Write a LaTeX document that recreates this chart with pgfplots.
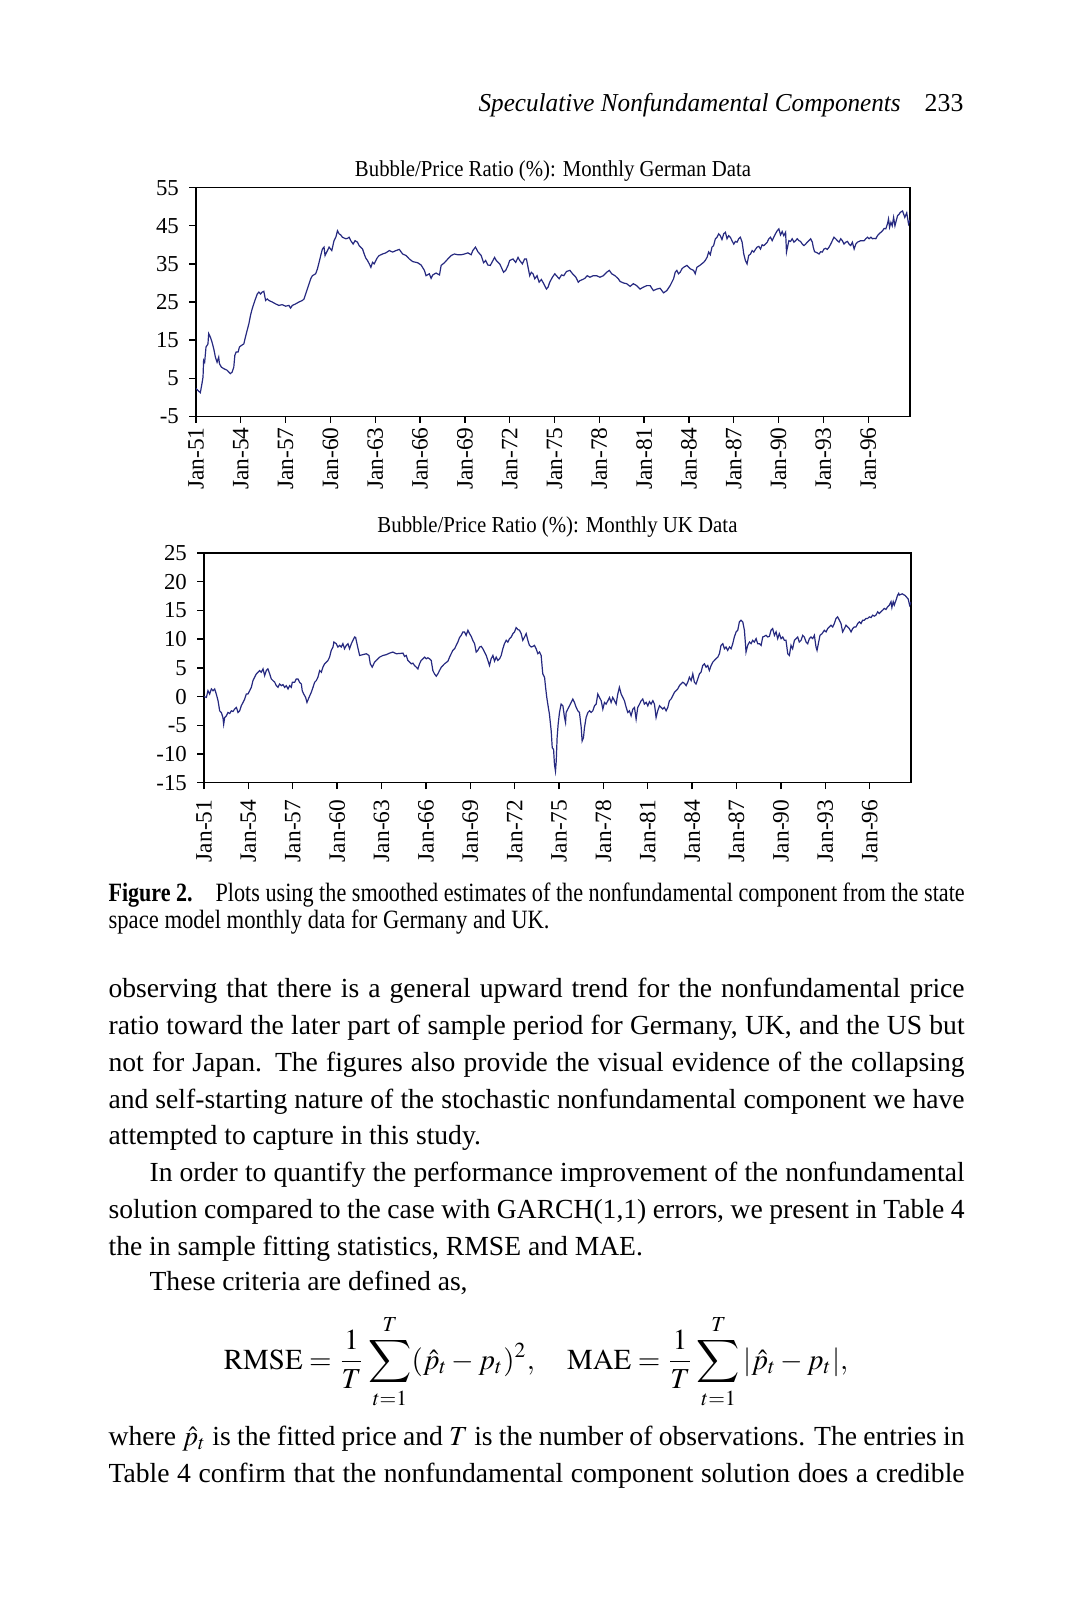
\documentclass[border=0pt]{standalone}
\usepackage{mathptmx}
\DeclareSymbolFont{largesymbols}{OMX}{cmex}{m}{n}
\usepackage{fontspec}
\setmainfont{Liberation Serif}
\usepackage{graphicx}
\usepackage{pgfplots}
\pgfplotsset{compat=1.18}
\definecolor{serieblue}{RGB}{38,41,128}
\newcommand\fitw[2]{\resizebox{#1}{\height}{#2}}
\newcommand\body{\fontsize{9.2}{12}\selectfont}

\pgfplotsset{bubble/.style={
  scale only axis, xmin=1951, xmax=1998.8,
  axis line style={line width=0.45pt},
  tick align=outside, xtick pos=left, ytick pos=left,
  major tick length=2.2pt, tick style={black,line width=0.45pt},
  xtick={1951,1954,...,1996},
  xticklabels={Jan-51,Jan-54,Jan-57,Jan-60,Jan-63,Jan-66,Jan-69,Jan-72,Jan-75,Jan-78,Jan-81,Jan-84,Jan-87,Jan-90,Jan-93,Jan-96},
  yticklabel style={font=\fontsize{7.6}{8}\selectfont},
  cycle list={{serieblue,line width=0.65pt,mark=none}},
}}

\begin{document}
\begin{tikzpicture}
\begin{scope}[x=0.333333pt,y=-0.333333pt]
\fill[white] (0,0) rectangle (1069,1600);
\coordinate (gsw) at (196,416.3);
\coordinate (usw) at (204,782.6);
% running head
\node[anchor=base west,inner sep=0pt] at (478,112) {\fontsize{8.6}{10}\selectfont\fitw{140.7pt}{\itshape Speculative Nonfundamental Components}};
\node[anchor=base east,inner sep=0pt] at (964,112) {\fontsize{8.6}{10}\selectfont 233};
% chart titles
\node[anchor=base,inner sep=0pt] at (553,176.5) {\fontsize{7.6}{9}\selectfont\fitw{132pt}{Bubble/Price Ratio (\%): Monthly German Data}};
\node[anchor=base,inner sep=0pt] at (557.5,532) {\fontsize{7.6}{9}\selectfont\fitw{120pt}{Bubble/Price Ratio (\%): Monthly UK Data}};
% caption
\node[anchor=base west,inner sep=0pt] at (108,901) {\fontsize{8.8}{10}\selectfont\fitw{28pt}{\textbf{Figure 2.}}};
\node[anchor=base west,inner sep=0pt] at (215,901) {\fontsize{8.8}{10}\selectfont\fitw{249.7pt}{Plots using the smoothed estimates of the nonfundamental component from the state}};
\node[anchor=base west,inner sep=0pt] at (108,928) {\fontsize{8.8}{10}\selectfont\fitw{147pt}{space model monthly data for Germany and UK.}};
% body text
\node[anchor=base west,inner sep=0pt] at (108,997) {\body\makebox[285.33pt][s]{observing that there is a general upward trend for the nonfundamental price}};
\node[anchor=base west,inner sep=0pt] at (108,1034) {\body\makebox[285.33pt][s]{ratio toward the later part of sample period for Germany, UK, and the US but}};
\node[anchor=base west,inner sep=0pt] at (108,1071) {\body\makebox[285.33pt][s]{not for Japan. The figures also provide the visual evidence of the collapsing}};
\node[anchor=base west,inner sep=0pt] at (108,1108) {\body\makebox[285.33pt][s]{and self-starting nature of the stochastic nonfundamental component we have}};
\node[anchor=base west,inner sep=0pt] at (108,1144) {\body attempted to capture in this study.};
\node[anchor=base west,inner sep=0pt] at (149,1181) {\body\makebox[271.67pt][s]{In order to quantify the performance improvement of the nonfundamental}};
\node[anchor=base west,inner sep=0pt] at (108,1218) {\body\makebox[285.33pt][s]{solution compared to the case with GARCH(1,1) errors, we present in Table 4}};
\node[anchor=base west,inner sep=0pt] at (108,1255) {\body the in sample fitting statistics, RMSE and MAE.};
\node[anchor=base west,inner sep=0pt] at (149,1290) {\body These criteria are defined as,};
\node[anchor=base,inner sep=0pt] at (536,1369) {\fontsize{9.65}{12}\selectfont$\displaystyle \mathrm{RMSE}=\frac{1}{T}\sum_{t=1}^{T}(\hat{p}_t-p_t)^2,\quad \mathrm{MAE}=\frac{1}{T}\sum_{t=1}^{T}|\hat{p}_t-p_t|,$};
\node[anchor=base west,inner sep=0pt] at (108,1445) {\body\makebox[285.33pt][s]{where $\hat{p}_t$ is the fitted price and $T$ is the number of observations. The entries in}};
\node[anchor=base west,inner sep=0pt] at (108,1482) {\body\makebox[285.33pt][s]{Table 4 confirm that the nonfundamental component solution does a credible}};
\end{scope}

\begin{axis}[bubble, at={(gsw)}, anchor=south west, width=238pt, height=76.2pt,
  xticklabel style={rotate=90,anchor=east,xshift=2pt,font=\fontsize{7.8}{8}\selectfont},
  ymin=-5, ymax=55, ytick={-5,5,...,55}, yticklabels={-5,5,15,25,35,45,55}]
\addplot table {
1951.00 2.3
1951.18 1.6
1951.29 1.2
1951.40 3.6
1951.47 5.3
1951.51 9.7
1951.58 9.2
1951.67 13.2
1951.74 13.6
1951.80 14.0
1951.85 16.7
1951.96 15.8
1952.07 14.5
1952.19 12.7
1952.30 10.5
1952.41 9.2
1952.52 10.5
1952.57 8.8
1952.70 7.9
1952.86 7.5
1953.08 7.1
1953.30 6.2
1953.42 6.6
1953.53 7.9
1953.60 11.0
1953.69 11.9
1953.82 11.9
1953.91 13.2
1954.04 13.6
1954.20 14.0
1954.31 15.8
1954.42 17.5
1954.54 19.3
1954.65 21.5
1954.76 23.2
1954.87 24.5
1954.98 25.8
1955.10 27.1
1955.21 27.6
1955.32 27.1
1955.43 27.6
1955.54 27.8
1955.66 25.4
1955.77 25.8
1955.88 25.4
1956.10 25.0
1956.33 24.5
1956.55 24.1
1956.77 24.3
1957.00 23.9
1957.22 24.1
1957.33 23.4
1957.45 24.1
1957.67 24.5
1957.89 25.0
1958.12 25.4
1958.23 25.8
1958.34 27.1
1958.45 28.4
1958.57 29.8
1958.68 31.1
1958.79 31.9
1959.01 32.4
1959.13 33.7
1959.24 35.4
1959.35 37.2
1959.46 38.9
1959.57 39.4
1959.64 37.2
1959.80 38.5
1959.91 39.4
1960.09 38.5
1960.24 41.1
1960.36 42.0
1960.47 43.7
1960.58 42.9
1960.69 42.6
1960.80 42.0
1961.03 41.6
1961.14 41.7
1961.25 42.0
1961.36 41.1
1961.52 40.2
1961.65 41.1
1961.81 40.7
1961.92 39.8
1962.15 38.9
1962.26 37.6
1962.37 36.5
1962.48 35.9
1962.60 35.0
1962.71 34.1
1962.82 35.4
1962.93 35.0
1963.04 35.9
1963.15 36.7
1963.27 37.2
1963.49 37.6
1963.71 37.9
1963.94 38.5
1964.16 38.1
1964.39 38.5
1964.61 38.8
1964.83 37.6
1965.06 37.2
1965.28 36.3
1965.51 35.6
1965.84 35.3
1966.07 34.7
1966.29 33.3
1966.40 31.9
1966.62 32.4
1966.74 31.2
1966.85 32.1
1967.07 32.6
1967.30 32.1
1967.41 34.6
1967.63 35.3
1967.86 36.3
1968.08 37.2
1968.30 37.6
1968.53 37.4
1968.75 37.4
1968.98 37.6
1969.20 37.9
1969.42 37.4
1969.53 38.5
1969.71 39.4
1969.87 38.2
1970.09 37.2
1970.25 35.3
1970.39 35.9
1970.54 34.7
1970.70 34.6
1970.88 35.9
1970.99 36.7
1971.10 35.9
1971.33 35.0
1971.44 34.1
1971.59 32.8
1971.73 33.3
1971.89 34.6
1972.00 35.9
1972.22 36.3
1972.40 35.4
1972.56 36.7
1972.67 35.9
1972.85 35.0
1973.00 36.3
1973.12 36.3
1973.23 34.1
1973.34 31.9
1973.45 32.8
1973.56 32.4
1973.68 31.1
1973.83 31.9
1973.97 30.2
1974.12 30.9
1974.28 29.8
1974.46 28.4
1974.57 28.9
1974.68 30.2
1974.86 31.5
1975.02 32.4
1975.13 31.9
1975.31 31.1
1975.47 32.1
1975.62 31.9
1975.80 33.0
1976.03 33.3
1976.21 32.4
1976.43 31.5
1976.59 30.2
1976.70 30.6
1976.88 30.9
1977.03 31.2
1977.19 31.9
1977.37 31.5
1977.59 31.9
1977.82 31.9
1978.04 31.5
1978.27 31.9
1978.49 32.8
1978.67 33.3
1978.83 32.4
1979.05 31.9
1979.27 31.1
1979.39 30.4
1979.61 30.0
1979.83 29.8
1980.06 29.1
1980.28 29.8
1980.50 29.3
1980.73 28.4
1980.95 28.9
1981.18 29.3
1981.40 29.3
1981.62 28.0
1981.85 28.4
1982.07 28.6
1982.30 27.4
1982.52 28.0
1982.74 29.3
1982.97 31.1
1983.08 32.8
1983.19 33.3
1983.30 32.4
1983.41 32.8
1983.53 33.7
1983.64 34.1
1983.86 34.6
1984.09 33.7
1984.31 33.3
1984.42 32.4
1984.53 34.1
1984.76 34.7
1984.98 35.4
1985.09 35.9
1985.21 36.7
1985.32 38.1
1985.43 37.4
1985.54 39.4
1985.65 39.8
1985.77 41.6
1985.88 42.0
1985.99 42.9
1986.10 42.4
1986.21 41.4
1986.33 42.9
1986.44 43.3
1986.55 41.6
1986.66 42.4
1986.77 42.0
1986.88 41.1
1987.00 40.2
1987.11 40.9
1987.22 40.7
1987.33 41.6
1987.44 42.0
1987.56 40.7
1987.67 37.6
1987.78 35.9
1987.89 35.0
1988.00 37.2
1988.12 37.6
1988.23 38.5
1988.34 38.1
1988.45 38.8
1988.56 39.4
1988.68 39.6
1988.79 38.9
1988.90 40.0
1989.01 39.8
1989.12 40.2
1989.24 40.7
1989.35 41.6
1989.46 42.0
1989.57 41.1
1989.68 42.0
1989.79 42.9
1989.91 43.7
1990.02 44.2
1990.13 42.6
1990.24 43.5
1990.35 42.4
1990.47 43.3
1990.53 38.1
1990.62 39.8
1990.69 41.1
1990.80 40.9
1990.91 41.6
1991.03 40.7
1991.14 41.1
1991.25 41.6
1991.36 41.1
1991.47 40.9
1991.59 40.2
1991.70 39.8
1991.81 40.2
1991.92 40.7
1992.03 41.1
1992.15 41.6
1992.26 40.7
1992.32 39.4
1992.41 38.2
1992.59 37.9
1992.71 37.6
1992.82 38.2
1992.93 38.1
1993.04 38.9
1993.15 39.1
1993.26 38.8
1993.38 39.4
1993.49 40.2
1993.60 41.1
1993.71 42.0
1993.82 41.6
1993.94 41.1
1994.05 40.7
1994.16 41.6
1994.27 41.1
1994.38 40.2
1994.50 40.7
1994.61 40.9
1994.72 40.2
1994.83 39.8
1994.94 40.7
1995.06 38.9
1995.17 40.2
1995.28 40.7
1995.39 40.9
1995.50 41.1
1995.73 41.1
1995.84 41.6
1995.95 42.0
1996.06 41.6
1996.18 42.0
1996.29 41.6
1996.40 41.7
1996.51 41.6
1996.62 42.4
1996.73 42.9
1996.85 43.3
1996.96 43.7
1997.07 44.3
1997.18 44.2
1997.29 45.5
1997.36 46.8
1997.43 44.6
1997.52 45.9
1997.61 45.0
1997.70 47.2
1997.79 45.0
1997.88 46.4
1997.97 47.7
1998.08 48.1
1998.14 48.5
1998.30 48.9
1998.45 47.2
1998.58 48.4
1998.70 45.5
1998.80 46.6
};
\end{axis}

\begin{axis}[bubble, at={(usw)}, anchor=south west, width=235.7pt, height=76.5pt,
  xticklabel style={rotate=90,anchor=east,font=\fontsize{7.8}{8}\selectfont},
  ymin=-15, ymax=25, ytick={-15,-10,...,25}, yticklabels={-15,-10,-5,0,5,10,15,20,25}]
\addplot table {
1951.00 0.0
1951.16 -0.15
1951.27 1.02
1951.38 0.44
1951.50 1.32
1951.61 1.02
1951.72 1.32
1951.83 0.44
1951.95 -0.73
1952.06 -2.49
1952.17 -2.78
1952.28 -3.65
1952.33 -4.82
1952.40 -3.65
1952.51 -3.36
1952.62 -2.78
1952.74 -2.95
1952.85 -2.49
1952.96 -2.60
1953.07 -2.19
1953.19 -1.90
1953.30 -2.78
1953.41 -2.49
1953.52 -1.61
1953.64 -1.02
1953.75 -0.44
1953.86 0.44
1953.97 0.44
1954.09 1.02
1954.20 1.61
1954.31 2.78
1954.42 3.36
1954.54 3.95
1954.65 4.24
1954.76 4.53
1954.87 4.24
1954.99 4.82
1955.10 3.65
1955.21 4.53
1955.32 4.82
1955.44 3.95
1955.55 3.07
1955.66 2.78
1955.78 2.49
1955.89 1.90
1956.00 1.61
1956.11 2.19
1956.23 1.90
1956.34 2.08
1956.45 1.61
1956.56 1.90
1956.68 1.32
1956.79 1.90
1956.90 1.61
1956.97 2.49
1957.13 2.49
1957.24 3.07
1957.35 3.07
1957.46 2.49
1957.58 2.19
1957.64 1.02
1957.74 0.44
1957.87 -0.15
1957.96 -1.02
1958.10 -0.15
1958.25 0.73
1958.37 1.61
1958.48 2.49
1958.59 2.78
1958.70 3.36
1958.82 4.53
1958.93 4.24
1959.04 5.12
1959.15 5.70
1959.27 5.99
1959.38 6.29
1959.49 6.87
1959.60 8.04
1959.72 8.63
1959.78 9.50
1959.94 9.21
1960.05 8.63
1960.17 8.92
1960.28 8.63
1960.39 9.21
1960.50 8.33
1960.62 8.92
1960.73 9.21
1960.84 8.33
1960.96 9.21
1961.07 9.80
1961.18 10.38
1961.25 10.30
1961.34 9.21
1961.52 7.16
1961.74 7.30
1961.97 7.46
1962.15 7.16
1962.24 5.70
1962.37 5.12
1962.53 5.99
1962.64 6.29
1962.87 6.87
1963.10 7.16
1963.32 7.30
1963.55 7.57
1963.77 7.75
1964.00 7.46
1964.22 7.50
1964.45 7.57
1964.56 6.99
1964.67 7.16
1964.78 6.29
1964.90 5.99
1965.01 5.70
1965.12 5.82
1965.23 5.41
1965.35 5.12
1965.46 4.82
1965.57 5.70
1965.68 6.29
1965.80 6.58
1965.91 6.87
1966.02 6.58
1966.13 6.75
1966.25 6.58
1966.36 6.29
1966.47 4.53
1966.58 3.95
1966.70 3.54
1966.81 3.95
1966.92 4.53
1967.04 5.12
1967.26 5.70
1967.49 6.17
1967.60 6.87
1967.71 7.46
1967.82 8.04
1967.94 8.33
1968.05 8.92
1968.16 9.50
1968.27 10.26
1968.39 10.67
1968.50 11.26
1968.61 11.26
1968.72 10.67
1968.84 11.55
1968.95 10.96
1969.06 10.50
1969.17 9.80
1969.29 9.21
1969.40 7.75
1969.51 8.04
1969.63 8.63
1969.74 8.74
1969.85 8.33
1969.96 7.75
1970.08 7.16
1970.19 6.29
1970.30 5.41
1970.41 6.58
1970.53 7.16
1970.64 6.17
1970.75 6.87
1970.86 6.29
1970.98 6.58
1971.09 7.16
1971.20 8.33
1971.31 9.21
1971.43 9.80
1971.54 9.50
1971.65 10.09
1971.77 10.38
1971.88 10.96
1971.99 11.26
1972.10 12.02
1972.22 11.67
1972.33 11.55
1972.44 10.96
1972.55 9.80
1972.67 10.38
1972.78 10.96
1972.89 9.80
1973.00 8.92
1973.12 8.63
1973.23 8.74
1973.34 8.92
1973.45 8.33
1973.57 7.46
1973.68 7.75
1973.79 7.16
1973.90 3.95
1974.02 3.36
1974.09 1.61
1974.17 -0.15
1974.24 -1.32
1974.35 -3.07
1974.47 -6.00
1974.54 -8.92
1974.63 -9.21
1974.69 -11.84
1974.76 -13.01
1974.81 -11.26
1974.87 -7.16
1974.94 -4.82
1975.03 -2.78
1975.14 -1.32
1975.26 -1.61
1975.37 -3.65
1975.44 -4.53
1975.48 -2.78
1975.59 -2.19
1975.71 -1.61
1975.82 -1.02
1975.93 -0.44
1976.04 -1.02
1976.16 -1.90
1976.27 -2.49
1976.38 -2.78
1976.50 -5.41
1976.56 -7.75
1976.65 -7.16
1976.72 -5.41
1976.83 -3.65
1976.95 -2.78
1977.06 -2.49
1977.17 -2.78
1977.28 -2.49
1977.40 -1.61
1977.51 -1.32
1977.62 0.44
1977.73 -0.15
1977.85 -0.73
1977.96 -2.19
1978.07 -1.02
1978.18 -1.32
1978.30 -0.73
1978.41 -0.15
1978.52 -1.02
1978.63 -0.15
1978.75 -0.73
1978.86 -1.32
1978.97 0.44
1979.08 1.61
1979.20 0.44
1979.31 -0.15
1979.42 -0.73
1979.54 -1.90
1979.65 -2.78
1979.76 -2.49
1979.87 -3.36
1979.99 -2.19
1980.10 -1.90
1980.21 -3.95
1980.32 -1.90
1980.44 -1.32
1980.55 -0.73
1980.66 -0.44
1980.77 -1.32
1980.89 -1.02
1981.00 -1.61
1981.11 -0.90
1981.22 -1.32
1981.34 -0.73
1981.45 -1.32
1981.56 -3.65
1981.67 -2.49
1981.79 -1.61
1981.90 -1.90
1982.01 -2.19
1982.12 -1.90
1982.24 -2.49
1982.35 -1.90
1982.46 -0.73
1982.57 -0.44
1982.69 0.15
1982.80 0.73
1982.91 1.02
1983.02 1.32
1983.14 1.90
1983.25 2.19
1983.36 2.49
1983.47 2.31
1983.59 1.90
1983.70 2.49
1983.81 3.36
1983.93 2.78
1984.04 3.95
1984.15 2.49
1984.26 2.19
1984.38 3.07
1984.49 3.95
1984.60 4.24
1984.71 5.41
1984.83 5.70
1984.94 5.12
1985.05 5.41
1985.16 4.53
1985.28 5.41
1985.39 5.99
1985.50 6.29
1985.61 6.58
1985.73 6.87
1985.84 7.46
1985.95 8.92
1986.07 9.21
1986.18 8.33
1986.29 8.63
1986.40 8.04
1986.52 8.63
1986.63 8.33
1986.74 9.21
1986.85 10.38
1986.97 11.26
1987.08 11.55
1987.19 13.01
1987.30 13.30
1987.42 13.01
1987.53 11.55
1987.60 9.21
1987.64 7.75
1987.75 8.92
1987.87 9.50
1987.98 9.21
1988.09 9.80
1988.20 9.50
1988.32 10.09
1988.43 9.21
1988.54 9.21
1988.66 8.92
1988.77 10.38
1988.88 10.50
1988.99 10.67
1989.11 10.38
1989.22 10.50
1989.33 11.55
1989.44 11.84
1989.56 10.67
1989.67 11.26
1989.78 10.09
1989.89 10.96
1990.01 10.09
1990.12 10.38
1990.23 9.80
1990.34 9.80
1990.46 7.46
1990.57 7.16
1990.68 8.92
1990.79 8.33
1990.91 9.80
1991.02 10.09
1991.13 10.38
1991.24 9.50
1991.36 9.80
1991.47 10.67
1991.58 10.38
1991.70 9.50
1991.81 9.21
1991.92 10.09
1992.03 10.38
1992.15 10.09
1992.26 10.67
1992.37 8.63
1992.44 8.04
1992.55 9.50
1992.64 10.67
1992.78 10.96
1992.93 11.55
1993.05 11.26
1993.16 11.84
1993.27 12.13
1993.38 12.43
1993.50 12.13
1993.61 12.72
1993.72 13.60
1993.83 13.89
1993.95 13.30
1994.06 12.72
1994.17 11.26
1994.29 11.84
1994.40 12.43
1994.51 12.13
1994.62 11.84
1994.74 11.26
1994.85 11.84
1994.96 12.13
1995.07 12.13
1995.19 12.72
1995.30 13.01
1995.41 12.72
1995.52 13.30
1995.64 13.30
1995.75 13.60
1995.86 13.60
1995.97 13.89
1996.09 13.77
1996.20 14.18
1996.31 14.01
1996.42 14.18
1996.54 14.77
1996.65 14.47
1996.76 14.77
1996.88 15.06
1996.99 15.35
1997.10 15.18
1997.21 15.64
1997.33 15.94
1997.44 16.52
1997.50 15.53
1997.59 16.52
1997.66 15.94
1997.78 16.81
1997.89 17.69
1997.96 17.98
1998.00 17.69
1998.20 17.90
1998.40 17.60
1998.60 17.00
1998.70 15.90
1998.80 16.50
};
\end{axis}
\end{tikzpicture}
\end{document}
